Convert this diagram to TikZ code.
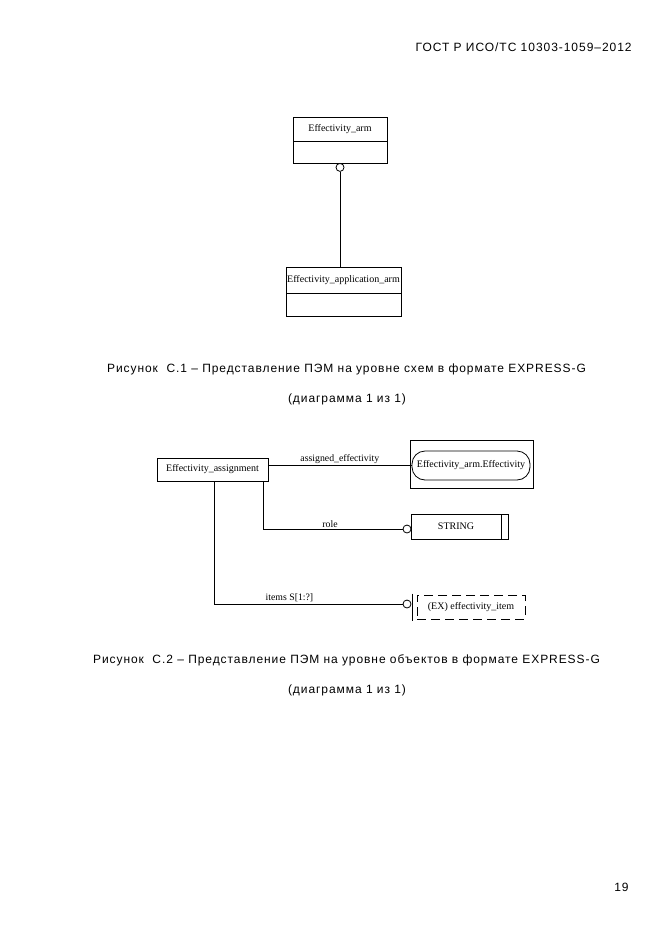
\documentclass[tikz,border=0pt]{standalone}
\usepackage{fontspec}
\setmainfont{Liberation Serif}
\newfontfamily\capfont[LetterSpace=7.8]{Liberation Sans}
\newfontfamily\hdrfont[LetterSpace=8]{Liberation Sans}
\usetikzlibrary{shapes,arrows,positioning}
\tikzstyle{ent}=[rectangle,draw,inner sep=1pt,outer sep=0pt,font=\fontsize{10}{11}\selectfont]
\tikzstyle{entbody}=[rectangle,draw,inner sep=0pt,outer sep=0pt]
\tikzstyle{ring}=[circle,draw,fill=white,inner sep=0pt,minimum size=8pt]
\tikzstyle{stadium}=[rectangle,draw,rounded corners=13pt,inner sep=1pt,font=\fontsize{10}{11}\selectfont]
\tikzstyle{lbl}=[font=\fontsize{9.8}{11}\selectfont,inner sep=1.5pt]
\tikzstyle{capline}=[font=\capfont\fontsize{12}{14}\selectfont]
\tikzstyle{lnk}=[line width=0.8pt]

\begin{document}
\begin{tikzpicture}[x=1pt,y=-1pt,line width=0.8pt]
\useasboundingbox[fill=white] (0,0) rectangle (661,935);
\node[font=\hdrfont\fontsize{12}{14}\selectfont, anchor=east, inner sep=0pt] (header) at (632,47) {ГОСТ Р ИСО/ТС 10303-1059–2012};
% schema level
\node[ent, minimum width=94pt, minimum height=24pt] (arm) at (340,129) {Effectivity\_arm};
\node[entbody, minimum width=94pt, minimum height=22pt, below=0pt of arm] (armbody) {};
\node[ring, below=0pt of armbody] (armring) {};
\node[ent, minimum width=115pt, minimum height=26pt] (app) at (343.5,280) {Effectivity\_application\_arm};
\node[entbody, minimum width=115pt, minimum height=23pt, below=0pt of app] (appbody) {};
\draw[lnk] (armring) -- (armring |- app.north);
\node[capline] (cap1) at (346.5,369) {Рисунок \ С.1 – Представление ПЭМ на уровне схем в формате EXPRESS-G};
\node[capline] (cap1b) at (347,399) {(диаграмма 1 из 1)};
% entity level
\node[ent, minimum width=111pt, minimum height=23pt] (assign) at (212.5,469.5) {Effectivity\_assignment};
\node[draw, minimum width=123pt, minimum height=48pt] (effref) at (471.5,464) {};
\node[stadium, minimum width=118pt, minimum height=29pt] (effname) at (471,465.5) {Effectivity\_arm.Effectivity};
\draw[lnk] (assign.east |- effname) -- node[above, lbl] {assigned\_effectivity} (effname.west);
\node[ring] (strring) at (407,529) {};
\node[ent, minimum width=90pt, minimum height=25pt, anchor=west] (string) at (411,526.5) {STRING};
\node[entbody, minimum width=7pt, minimum height=25pt, right=0pt of string] (stringend) {};
\draw[lnk] ([xshift=-5pt]assign.south east) |- node[pos=0.74, above, lbl] {role} (strring.west);
\node[ring] (itemring) at (407,604) {};
\node[draw, dash pattern=on 9pt off 5pt, minimum width=108pt, minimum height=24pt, font=\fontsize{10}{11}\selectfont] (item) at (471,607) {(EX) effectivity\_item};
\draw[lnk] ([xshift=-4.5pt,yshift=1pt]item.north west) -- ([xshift=-4.5pt,yshift=-2pt]item.south west);
\draw[lnk] ([xshift=1.5pt]assign.south) |- node[pos=0.70, above, lbl] {items S[1:?]} (itemring.west);
\node[capline] (cap2) at (346.5,660) {Рисунок \ С.2 – Представление ПЭМ на уровне объектов в формате EXPRESS-G};
\node[capline] (cap2b) at (347,690) {(диаграмма 1 из 1)};
\node[font=\hdrfont\fontsize{12}{14}\selectfont, anchor=east, inner sep=0pt] (pagenum) at (629,887) {19};
\end{tikzpicture}
\end{document}
